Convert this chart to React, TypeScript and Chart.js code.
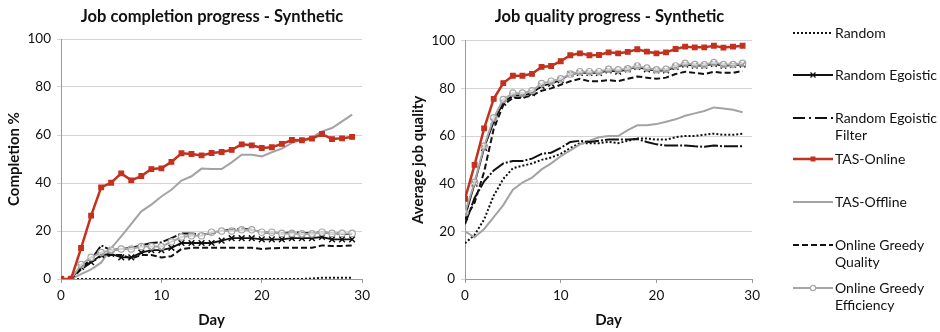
import React, { useEffect, useRef } from "react";
import { Chart, registerables } from "chart.js";

Chart.register(...registerables);

const FONT = "Lato, 'Open Sans', sans-serif";

// ---- data ----
const days = [0, 1, 2, 3, 4, 5, 6, 7, 8, 9, 10, 11, 12, 13, 14, 15, 16, 17, 18, 19, 20, 21, 22, 23, 24, 25, 26, 27, 28, 29];
const xTicks = [0, 10, 20, 30];
const yTicks = [0, 20, 40, 60, 80, 100];

const seriesNames = [
  "Random",
  "Random Egoistic",
  "Random Egoistic Filter",
  "TAS-Online",
  "TAS-Offline",
  "Online Greedy Quality",
  "Online Greedy Efficiency",
];

// Job completion progress (%)
const compRandom = [0, 0, 0, 0, 0, 0, 0, 0, 0, 0, 0, 0, 0, 0, 0, 0, 0, 0, 0, 0, 0, 0, 0, 0, 0, 0.2, 0.5, 0.5, 0.5, 0.5];
const compRandomEgoistic = [0, 0, 5, 7, 10, 10.5, 9, 9, 11, 12, 12, 13, 15, 15, 15, 15, 16, 17, 17, 17, 16.5, 16.5, 16.5, 17, 17, 17, 17.5, 16.5, 16.5, 16.5];
const compRandomEgoisticFilter = [0, 0, 5, 8, 14, 12, 12.5, 13, 14, 15, 15.3, 17, 19, 19, 18.5, 19, 20, 20.5, 21, 20.5, 19.5, 19.3, 19, 19.5, 19.3, 19, 19.5, 19, 18.8, 18.8];
const compTasOnline = [0, 0, 12.9, 26.4, 38.2, 40.1, 44, 41.1, 42.9, 45.8, 46.1, 48.8, 52.4, 52.1, 51.5, 52.5, 52.9, 53.8, 56.1, 55.7, 54.6, 54.9, 56.3, 57.9, 57.8, 58.5, 60.4, 58.3, 58.6, 59.2];
const compTasOffline = [0, 0, 2, 4, 6.8, 12.9, 17.8, 23, 28.2, 31, 34.4, 37.2, 41, 42.8, 46, 45.8, 45.8, 48.6, 51.8, 51.8, 51.1, 52.8, 54.3, 56.7, 58, 59, 61.5, 62.9, 65.7, 68.5];
const compGreedyQuality = [0, 0, 4, 7, 9.5, 10, 10, 8.5, 10, 10, 9, 9.5, 12.5, 13, 13, 13, 13, 13, 13, 13, 12.5, 12.8, 13, 13, 13, 13, 14, 13.8, 13.8, 14];
const compGreedyEfficiency = [0, 0, 6, 9, 11, 12, 12.5, 12.5, 13.5, 13.5, 13.5, 15.5, 17.5, 18, 18, 19.5, 20, 20, 20.5, 20.5, 19.5, 19.5, 19, 19, 18.8, 18.8, 19.5, 19, 19, 19];

// Average job quality
const qualRandom = [15, 18.5, 25, 35, 42, 46.5, 47.5, 48.5, 50, 51, 52.5, 55, 57, 57, 57, 57.5, 57, 58, 59, 59, 58.5, 58.5, 59.5, 60, 60, 60.5, 61, 60.5, 60.5, 61];
const qualRandomEgoistic = [26, 40, 55, 66, 74, 77, 77, 78, 81, 82, 83.5, 86, 86.5, 86.5, 86.5, 87.5, 87, 88, 89, 88, 87.5, 87.5, 89, 90, 89.5, 89.5, 90.3, 89.5, 89.8, 90];
const qualRandomEgoisticFilter = [23, 34, 41, 45.5, 48.5, 49.5, 49.5, 50.5, 52.5, 53, 55, 57.5, 58, 57.5, 58, 58.5, 58.5, 58.5, 58.7, 57.5, 56.5, 56, 56, 56, 55.7, 55.5, 56, 55.7, 55.7, 55.7];
const qualTasOnline = [33.6, 47.9, 63.2, 75.6, 82.2, 85.3, 85.3, 86.1, 89, 89.4, 91.4, 93.9, 94.7, 93.9, 94, 95.1, 94.7, 95.3, 96.4, 95.4, 94.7, 95.1, 96.5, 97.5, 97.2, 97.2, 97.9, 97.1, 97.5, 97.9];
const qualTasOffline = [20, 17.5, 21, 26, 31, 37.5, 40.5, 42.5, 46, 48.5, 51.5, 54, 56.5, 58, 59.5, 60, 60, 62.5, 64.5, 64.5, 65, 66, 67, 68.5, 69.5, 70.5, 72, 71.5, 71, 70];
const qualGreedyQuality = [25, 32, 45, 63, 73, 76, 76, 77, 79, 80, 81.5, 83, 84, 83, 83, 83.5, 83, 84, 85, 84.5, 84, 84.5, 86, 87, 86.5, 86, 87, 86.5, 86.5, 87.3];
const qualGreedyEfficiency = [27.8, 40.6, 55.8, 67.6, 75.3, 78, 78, 79, 82, 83, 84, 86, 87, 87, 87, 88, 87.8, 88.2, 89.4, 88.5, 87.8, 88, 89.4, 90.5, 90, 89.9, 90.8, 90, 90, 90.5];

const completionSeries = [compRandom, compRandomEgoistic, compRandomEgoisticFilter, compTasOnline, compTasOffline, compGreedyQuality, compGreedyEfficiency];
const qualitySeries = [qualRandom, qualRandomEgoistic, qualRandomEgoisticFilter, qualTasOnline, qualTasOffline, qualGreedyQuality, qualGreedyEfficiency];

// ---- styles ----
const RED = "#c3321f";
const GRAY = "#a3a3a3";
const BLACK = "#111111";

type Style = {
  color: string;
  width: number;
  dash: number[];
  chartDash: number[];
  point: string | false;
  radius: number;
  pointBg: string;
  order: number;
};

const styles: Style[] = [
  { color: BLACK, width: 2, dash: [2, 2], chartDash: [2, 2], point: false, radius: 0, pointBg: BLACK, order: 6 },
  { color: BLACK, width: 1.8, dash: [], chartDash: [], point: "crossRot", radius: 4, pointBg: BLACK, order: 3 },
  { color: BLACK, width: 2, dash: [12, 4, 2, 4], chartDash: [14, 2, 2, 2], point: false, radius: 0, pointBg: BLACK, order: 4 },
  { color: RED, width: 2.5, dash: [], chartDash: [], point: "rect", radius: 3.3, pointBg: RED, order: 0 },
  { color: GRAY, width: 2, dash: [], chartDash: [], point: false, radius: 0, pointBg: GRAY, order: 5 },
  { color: BLACK, width: 2, dash: [6, 3], chartDash: [6, 3], point: false, radius: 0, pointBg: BLACK, order: 2 },
  { color: "#a6a6a6", width: 2, dash: [], chartDash: [], point: "circle", radius: 3.2, pointBg: "rgba(255,255,255,0.55)", order: 1 },
];

function buildDatasets(series: number[][]) {
  return series.map((vals, i) => {
    const s = styles[i];
    return {
      label: seriesNames[i],
      data: days.map((d, j) => ({ x: d, y: vals[j] })),
      borderColor: s.color,
      backgroundColor: s.color,
      borderWidth: s.width,
      borderDash: s.chartDash,
      pointStyle: s.point || "circle",
      pointRadius: s.point ? s.radius : 0,
      pointBorderColor: s.color,
      pointBackgroundColor: s.pointBg,
      pointBorderWidth: s.point === "crossRot" ? 1.5 : 1.2,
      tension: 0,
      fill: false,
      order: s.order,
    };
  });
}

function buildOptions(yTitle: string, yWidth: number, padRight: number, padTop: number, yTitlePad: number) {
  const tickFont = { family: FONT, size: 13.5 };
  const titleFont = { family: FONT, size: 15, weight: "bold" as const };
  return {
    animation: false as const,
    responsive: false,
    maintainAspectRatio: false,
    layout: { padding: { left: 0, right: padRight, top: padTop, bottom: 0 } },
    plugins: {
      legend: { display: false },
      tooltip: { enabled: false },
      title: { display: false },
    },
    scales: {
      x: {
        type: "linear" as const,
        min: xTicks[0],
        max: xTicks[xTicks.length - 1],
        afterBuildTicks: (s: any) => {
          s.ticks = xTicks.map((v) => ({ value: v }));
        },
        ticks: { font: tickFont, color: "#111", padding: 5, maxRotation: 0 },
        grid: { drawOnChartArea: false, drawTicks: true, tickLength: 4, color: "#9a9a9a" },
        border: { display: true, color: "#9a9a9a", width: 1 },
        title: { display: true, text: "Day", font: titleFont, color: "#111", padding: { top: 0, bottom: 3 } },
        afterFit: (s: any) => {
          s.height = 53;
        },
      },
      y: {
        type: "linear" as const,
        min: yTicks[0],
        max: yTicks[yTicks.length - 1],
        afterBuildTicks: (s: any) => {
          s.ticks = yTicks.map((v) => ({ value: v }));
        },
        ticks: { font: tickFont, color: "#111", padding: 6 },
        grid: { drawOnChartArea: true, drawTicks: true, tickLength: 4, color: "#d4d4d4" },
        border: { display: true, color: "#9a9a9a", width: 1 },
        title: { display: true, text: yTitle, font: titleFont, color: "#111", padding: { top: yTitlePad, bottom: 0 } },
        afterFit: (s: any) => {
          s.width = yWidth;
        },
      },
    },
  };
}

function LineChart(props: {
  series: number[][];
  yTitle: string;
  width: number;
  height: number;
  yWidth: number;
  padRight: number;
  padTop: number;
  yTitlePad: number;
}) {
  const ref = useRef<HTMLCanvasElement | null>(null);
  useEffect(() => {
    if (!ref.current) return;
    const chart = new Chart(ref.current, {
      type: "line",
      data: { datasets: buildDatasets(props.series) as any },
      options: buildOptions(props.yTitle, props.yWidth, props.padRight, props.padTop, props.yTitlePad) as any,
    });
    return () => chart.destroy();
  }, []);
  return (
    <canvas
      ref={ref}
      width={props.width}
      height={props.height}
      style={{ width: props.width, height: props.height, display: "block" }}
    />
  );
}

function LegendSample({ i }: { i: number }) {
  const s = styles[i];
  const w = 40;
  const y = 6;
  return (
    <svg width={w} height={12} style={{ display: "block" }}>
      <line x1={0} y1={y} x2={w} y2={y} stroke={s.color} strokeWidth={s.width} strokeDasharray={s.dash.length ? s.dash.join(" ") : undefined} />
      {s.point === "rect" && <rect x={w / 2 - 2.5} y={y - 2.5} width={5} height={5} fill={s.color} />}
      {s.point === "crossRot" && (
        <g stroke={s.color} strokeWidth={1.3}>
          <line x1={w / 2 - 2.5} y1={y - 2.5} x2={w / 2 + 2.5} y2={y + 2.5} />
          <line x1={w / 2 - 2.5} y1={y + 2.5} x2={w / 2 + 2.5} y2={y - 2.5} />
        </g>
      )}
      {s.point === "circle" && <circle cx={w / 2} cy={y} r={2.6} fill="#fff" stroke={s.color} strokeWidth={1.2} />}
    </svg>
  );
}

const legendLines: string[][] = [
  ["Random"],
  ["Random Egoistic"],
  ["Random Egoistic", "Filter"],
  ["TAS-Online"],
  ["TAS-Offline"],
  ["Online Greedy", "Quality"],
  ["Online Greedy", "Efficiency"],
];
const legendCenters = [33, 75, 118, 159, 202, 245, 288];

export default function App() {
  const titleStyle: React.CSSProperties = {
    position: "absolute",
    top: 5.5,
    fontFamily: FONT,
    fontWeight: "bold",
    fontSize: 16.5,
    lineHeight: "20px",
    textAlign: "center",
    color: "#111",
    whiteSpace: "nowrap",
  };
  return (
    <div style={{ position: "absolute", left: 0, top: 0, width: 940, height: 332, background: "#fff", overflow: "hidden" }}>
      <div style={{ position: "absolute", left: 0, top: 0 }}>
        <LineChart series={completionSeries} yTitle="Completion %" width={375} height={332} yWidth={61} padRight={12} padTop={39} yTitlePad={4.8} />
      </div>
      <div style={{ ...titleStyle, left: 61, width: 302 }}>Job completion progress - Synthetic</div>
      <div style={{ position: "absolute", left: 395, top: 0 }}>
        <LineChart series={qualitySeries} yTitle="Average job quality" width={370} height={332} yWidth={70} padRight={11} padTop={40.7} yTitlePad={14} />
      </div>
      <div style={{ ...titleStyle, left: 465, width: 289 }}>Job quality progress - Synthetic</div>
      {seriesNames.map((name, i) => (
        <div key={name} style={{ position: "absolute", left: 793, top: legendCenters[i] - 9, display: "flex", alignItems: "flex-start" }}>
          <div style={{ paddingTop: 3 }}>
            <LegendSample i={i} />
          </div>
          <div style={{ marginLeft: 2, fontFamily: FONT, fontSize: 14, lineHeight: "17px", color: "#111" }}>
            {legendLines[i].map((t, k) => (
              <div key={k}>{t}</div>
            ))}
          </div>
        </div>
      ))}
    </div>
  );
}
